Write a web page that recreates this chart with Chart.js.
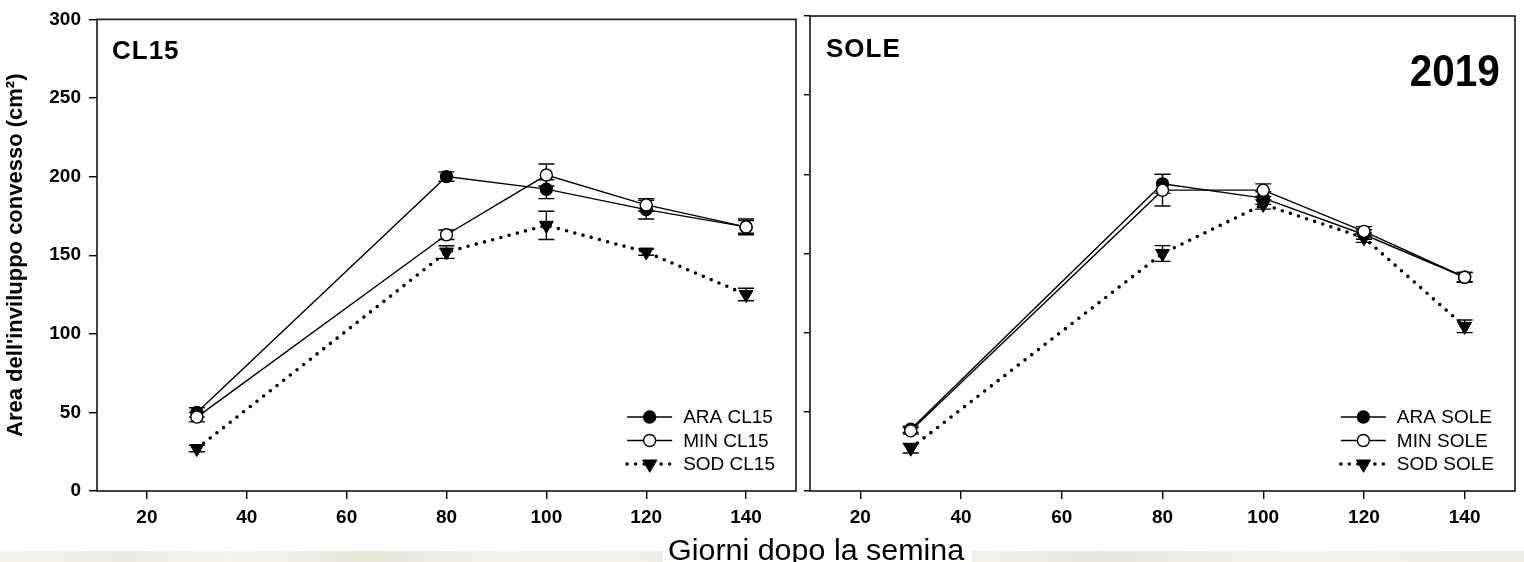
<!DOCTYPE html>
<html lang="it">
<head>
<meta charset="utf-8">
<title>Area dell'inviluppo convesso 2019</title>
<script src="https://cdn.jsdelivr.net/npm/chart.js@4.4.1/dist/chart.umd.min.js"></script>
<style>
  html, body { margin: 0; padding: 0; background: #fff; }
  body { position: relative; width: 1524px; height: 562px; overflow: hidden; font-family: 'Liberation Sans', Arial, sans-serif; }
  .band {
    position: absolute; left: 0; top: 551px; width: 1524px; height: 11px;
    background: linear-gradient(90deg, #f4f3ec 0%, #eceadf 8%, #f5f4ee 15%, #e8e6d8 24%, #f2f1ea 33%,
      #efeee4 45%, #f6f5ef 60%, #e9e7db 72%, #f3f2eb 85%, #ecebe1 100%);
  }
  .panel { position: absolute; top: 0; height: 535px; }
  #panel-cl15 { left: 0; width: 805px; }
  #panel-sole { left: 800px; width: 724px; }
  .tag { position: absolute; font-weight: bold; font-size: 26px; line-height: 1; color: #000; white-space: nowrap; }
  #tag-cl15 { left: 112px; top: 37px; letter-spacing: 1px; }
  #tag-sole { left: 826px; top: 35px; letter-spacing: 1px; }
  #year {
    position: absolute; right: 24px; top: 49px; font-size: 44px; font-weight: bold; line-height: 1; color: #000;
    transform: scaleX(0.92); transform-origin: right;
  }
  #x-title {
    position: absolute; left: 663px; top: 536px; width: 309px; height: 26px; background: #fff;
    font-size: 29px; line-height: 1; color: #000; white-space: nowrap; overflow: visible;
  }
  #x-title span { display: inline-block; margin-left: 5px; transform: scaleX(1.05); transform-origin: left; }
</style>
</head>
<body>
<div class="band"></div>
<div class="panel" id="panel-cl15"><canvas id="chart-cl15"></canvas></div>
<div class="panel" id="panel-sole"><canvas id="chart-sole"></canvas></div>
<div class="tag" id="tag-cl15">CL15</div>
<div class="tag" id="tag-sole">SOLE</div>
<div id="year">2019</div>
<div id="x-title"><span>Giorni dopo la semina</span></div>

<script>
// --- DATA ---
const days = [30, 80, 100, 120, 140];
const xTicks = [20, 40, 60, 80, 100, 120, 140];
const yTicks = [0, 50, 100, 150, 200, 250, 300];

// CL15
const araCL15 = [50, 200, 192, 179, 168];
const araCL15Err = [3, 3, 6, 6, 4];
const minCL15 = [47, 163, 201, 182, 168];
const minCL15Err = [3, 3, 7, 4, 5];
const sodCL15 = [27, 152, 169, 152, 125];
const sodCL15Err = [2, 4, 9, 2, 4];

// SOLE
const araSOLE = [39, 194, 185, 162, 135];
const araSOLEErr = [2, 6, 4, 3, 3];
const minSOLE = [38, 190, 190, 164, 135];
const minSOLEErr = [2, 10, 4, 3, 3];
const sodSOLE = [27, 150, 181, 160, 104];
const sodSOLEErr = [3, 5, 3, 3, 4];

const yTitle = "Area dell'inviluppo convesso (cm²)";

Chart.defaults.font.family = "'Liberation Sans', Arial, sans-serif";
Chart.defaults.color = '#000';

// --- PLUGINS ---
// vertical error bars with caps, drawn under the markers
const errorBarPlugin = {
  id: 'errorBars',
  beforeDatasetsDraw(chart) {
    const { ctx, scales: { x, y } } = chart;
    ctx.save();
    ctx.strokeStyle = '#000';
    ctx.lineWidth = 1.4;
    chart.data.datasets.forEach(ds => {
      ds.data.forEach((pt, i) => {
        const err = ds.errors[i];
        const px = x.getPixelForValue(pt.x);
        const top = y.getPixelForValue(pt.y + err);
        const bot = y.getPixelForValue(pt.y - err);
        ctx.beginPath();
        ctx.moveTo(px, top); ctx.lineTo(px, bot);
        ctx.moveTo(px - 8, top); ctx.lineTo(px + 8, top);
        ctx.moveTo(px - 8, bot); ctx.lineTo(px + 8, bot);
        ctx.stroke();
      });
    });
    ctx.restore();
  }
};

// closed box around the plot area
const framePlugin = {
  id: 'frame',
  afterDraw(chart) {
    const { ctx, chartArea: { left, top, width, height } } = chart;
    ctx.save();
    ctx.strokeStyle = '#222';
    ctx.lineWidth = 1.7;
    ctx.strokeRect(left, top, width, height);
    ctx.restore();
  }
};

// legend in the lower right corner: line sample + marker + label
const cornerLegendPlugin = {
  id: 'cornerLegend',
  afterDraw(chart) {
    const { ctx, chartArea } = chart;
    const sets = chart.data.datasets;
    ctx.save();
    ctx.font = '19px "Liberation Sans", Arial, sans-serif';
    const textW = Math.max(...sets.map(d => ctx.measureText(d.label).width));
    const textX = chartArea.right - 21 - textW;
    const lineR = textX - 11;
    const lineL = lineR - 45;
    const mid = (lineL + lineR) / 2;
    sets.forEach((ds, i) => {
      const y = chartArea.bottom - 74 + i * 23.5;
      ctx.strokeStyle = '#000';
      ctx.lineWidth = ds.borderWidth;
      ctx.lineCap = ds.borderCapStyle || 'butt';
      ctx.setLineDash(ds.borderDash || []);
      ctx.beginPath();
      ctx.moveTo(lineL, y);
      ctx.lineTo(lineR, y);
      ctx.stroke();
      ctx.setLineDash([]);
      ctx.fillStyle = ds.pointBackgroundColor;
      ctx.lineWidth = ds.pointBorderWidth;
      Chart.helpers.drawPoint(ctx, {
        pointStyle: ds.pointStyle,
        radius: ds.pointRadius,
        rotation: ds.pointRotation || 0,
        borderWidth: ds.pointBorderWidth
      }, mid, y);
      ctx.fillStyle = '#000';
      ctx.textBaseline = 'middle';
      ctx.fillText(ds.label, textX, y + 1);
    });
    ctx.restore();
  }
};

// --- CHART BUILDERS ---
const toPoints = vals => days.map((d, i) => ({ x: d, y: vals[i] }));

const solidSeries = (label, vals, errs, fill, order) => ({
  label,
  data: toPoints(vals),
  errors: errs,
  order,
  borderColor: '#000',
  borderWidth: 1.4,
  pointStyle: 'circle',
  pointRadius: 6,
  pointBackgroundColor: fill,
  pointBorderColor: '#000',
  pointBorderWidth: 1.4,
  tension: 0
});

const dottedSeries = (label, vals, errs, order) => ({
  label,
  data: toPoints(vals),
  errors: errs,
  order,
  borderColor: '#000',
  borderWidth: 3.6,
  borderDash: [0, 8.5],
  borderCapStyle: 'round',
  pointStyle: 'triangle',
  pointRotation: 180,
  pointRadius: 8,
  pointBackgroundColor: '#000',
  pointBorderColor: '#000',
  pointBorderWidth: 1,
  tension: 0
});

const buildOptions = (withLabels, padRight) => ({
  responsive: true,
  maintainAspectRatio: false,
  animation: false,
  events: [],
  layout: { padding: { top: 16, right: padRight, bottom: 0, left: 0 } },
  plugins: { legend: { display: false }, tooltip: { enabled: false } },
  scales: {
    x: {
      type: 'linear',
      min: 10,
      max: 150,
      afterBuildTicks: s => { s.ticks = xTicks.map(v => ({ value: v })); },
      afterFit: s => { s.height = 44; },
      border: { display: false },
      grid: { drawOnChartArea: false, tickLength: 8, color: '#000', lineWidth: 1.4 },
      ticks: { font: { size: 19, weight: 'bold' }, color: '#000', padding: 7, maxRotation: 0 }
    },
    y: {
      min: 0,
      max: 300,
      afterBuildTicks: s => { s.ticks = yTicks.map(v => ({ value: v })); },
      afterFit: s => { s.width = withLabels ? 97 : 10; },
      border: { display: false },
      grid: { drawOnChartArea: false, tickLength: withLabels ? 8 : 6, color: '#000', lineWidth: 1.4 },
      ticks: { display: withLabels, font: { size: 19, weight: 'bold' }, color: '#000', padding: 8 },
      title: {
        display: withLabels,
        text: yTitle,
        color: '#000',
        font: { size: 22, weight: 'bold' },
        padding: { top: 3, bottom: 0 }
      }
    }
  }
});

new Chart(document.getElementById('chart-cl15'), {
  type: 'line',
  data: {
    datasets: [
      solidSeries('ARA CL15', araCL15, araCL15Err, '#000', 2),
      solidSeries('MIN CL15', minCL15, minCL15Err, '#fff', 1),
      dottedSeries('SOD CL15', sodCL15, sodCL15Err, 3)
    ]
  },
  options: buildOptions(true, 4),
  plugins: [errorBarPlugin, framePlugin, cornerLegendPlugin]
});

new Chart(document.getElementById('chart-sole'), {
  type: 'line',
  data: {
    datasets: [
      solidSeries('ARA SOLE', araSOLE, araSOLEErr, '#000', 2),
      solidSeries('MIN SOLE', minSOLE, minSOLEErr, '#fff', 1),
      dottedSeries('SOD SOLE', sodSOLE, sodSOLEErr, 3)
    ]
  },
  options: buildOptions(false, 8),
  plugins: [errorBarPlugin, framePlugin, cornerLegendPlugin]
});
</script>
</body>
</html>
